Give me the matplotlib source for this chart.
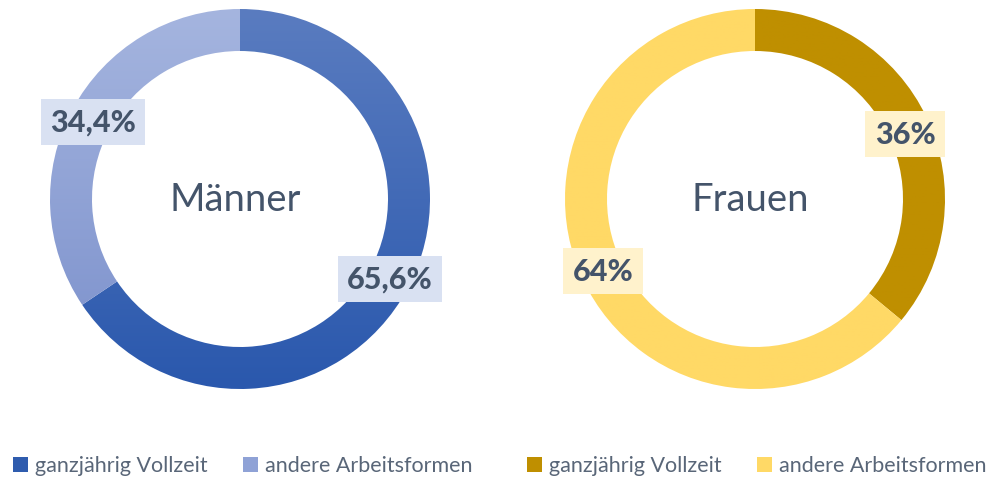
import numpy as np
import matplotlib
matplotlib.use("Agg")
import matplotlib.pyplot as plt
from matplotlib.colors import LinearSegmentedColormap

plt.rcParams["font.family"] = ["Lato", "DejaVu Sans"]

# data
groups = ["Männer", "Frauen"]
categories = ["ganzjährig Vollzeit", "andere Arbeitsformen"]
men_values = [65.6, 34.4]
women_values = [36.0, 64.0]
men_labels = ["65,6%", "34,4%"]
women_labels = ["36%", "64%"]

W, H = 1003, 481
fig = plt.figure(figsize=(W / 100, H / 100), dpi=100)
ax = fig.add_axes([0, 0, 1, 1])
ax.set_xlim(0, W); ax.set_ylim(0, H)
ax.set_aspect("equal"); ax.axis("off")

TXT = "#44546a"
R, RING = 190, 42

cfg = [
    dict(vals=men_values, labels=men_labels, name=groups[0], center=(240, 281),
         grads=[("#5a7cc0", "#2a58ad"), ("#a5b5df", "#7a8fcb")],
         flat=["#2f5cae", "#8fa2d6"], box="#d9e1f2",
         lab_pos=[(390, 201), (93, 358)]),
    dict(vals=women_values, labels=women_labels, name=groups[1], center=(755, 281),
         grads=[("#bf8f00", "#bf8f00"), ("#ffd966", "#ffd966")],
         flat=["#bf8f00", "#ffd966"], box="#fff2cc",
         lab_pos=[(905, 346), (603, 209)]),
]

for c in cfg:
    cx, cy = c["center"]
    wedges, _ = ax.pie(c["vals"], center=(cx, cy), radius=R, startangle=90,
                       counterclock=False, frame=True,
                       wedgeprops=dict(width=RING, linewidth=0))
    for w, (top, bot) in zip(wedges, c["grads"]):
        cmap = LinearSegmentedColormap.from_list("g", [bot, top])
        grad = np.linspace(0, 1, 256).reshape(-1, 1)
        w.set_facecolor("none")
        im = ax.imshow(grad, cmap=cmap, origin="lower", aspect="auto",
                       extent=(cx - R, cx + R, cy - R, cy + R), zorder=1)
        im.set_clip_path(w)
    ax.text(cx - 5, cy, c["name"], ha="center", va="center", fontsize=27.5, color=TXT)
    for (x, y), lab in zip(c["lab_pos"], c["labels"]):
        ax.text(x, y, lab, ha="center", va="center", fontsize=22, fontweight="black",
                color=TXT, zorder=5,
                bbox=dict(boxstyle="square,pad=0.3", fc=c["box"], ec="none"))

ax.set_xlim(0, W); ax.set_ylim(0, H)

# legends
leg_y = H - 466
leg_x = [(13, 35), (243, 265), (527, 549), (757, 779)]
leg_cols = cfg[0]["flat"] + cfg[1]["flat"]
for (sx, tx), col, lab in zip(leg_x, leg_cols, categories * 2):
    ax.add_patch(plt.Rectangle((sx, leg_y - 7), 15, 15, fc=col, ec="none"))
    ax.text(tx, leg_y, lab, ha="left", va="center", fontsize=15.5, color="#596678")

fig.savefig("out.png", dpi=100, facecolor="white")
